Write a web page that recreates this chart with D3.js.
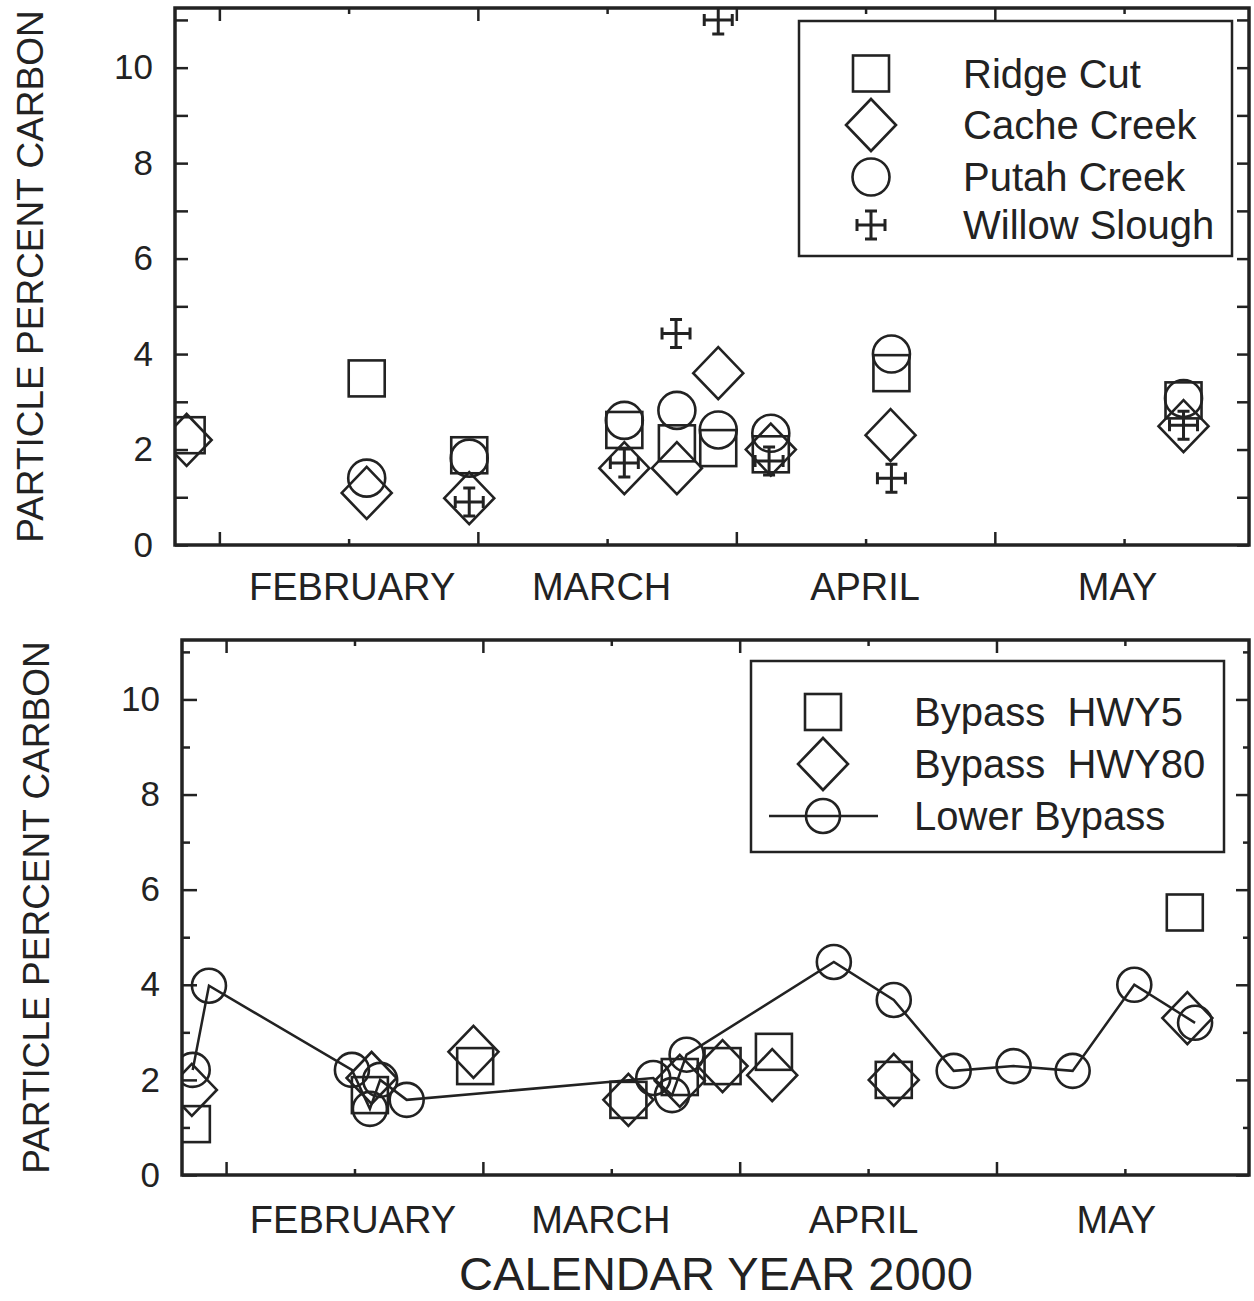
<!DOCTYPE html>
<html><head><meta charset="utf-8">
<script src="https://cdn.jsdelivr.net/npm/d3@7"></script>
<style>
html,body{margin:0;padding:0;background:#fff;}
text{font-family:"Liberation Sans",Arial,Helvetica,sans-serif;fill:#222;}
</style>
</head><body>
<svg id="chart" width="1254" height="1301" xmlns="http://www.w3.org/2000/svg"></svg>
<script>
// ---------- data (day of year 2000, particle percent carbon) ----------
const dayTicks = [30, 45, 60, 75, 90, 105, 120, 135];
const monthTickDays = [45, 75, 105, 135];
const monthLabels = ["FEBRUARY", "MARCH", "APRIL", "MAY"];
const yTicks = [0, 1, 2, 3, 4, 5, 6, 7, 8, 9, 10, 11];
const yLabelTicks = [0, 2, 4, 6, 8, 10];
const xDomain = [24.85, 149.5];
const yDomain = [0, 11.25];

const topNames = ["Ridge Cut", "Cache Creek", "Putah Creek", "Willow Slough"];
const ridgeCutDay = [26.2, 47.1, 59.0, 77.0, 83.1, 87.9, 94.0, 108.0, 141.9];
const ridgeCutPct = [2.3, 3.49, 1.88, 2.41, 2.13, 2.03, 1.9, 3.6, 3.03];
const cacheCreekDay = [26.2, 47.1, 59.0, 77.0, 83.1, 87.9, 94.0, 107.9, 141.9];
const cacheCreekPct = [2.2, 1.09, 0.98, 1.61, 1.61, 3.6, 2.0, 2.3, 2.49];
const putahCreekDay = [47.1, 59.0, 77.0, 83.1, 87.9, 94.0, 108.0, 141.9];
const putahCreekPct = [1.4, 1.82, 2.61, 2.82, 2.41, 2.34, 4.0, 3.07];
const willowSloughDay = [59.0, 77.0, 83.0, 87.9, 93.8, 108.0, 141.9];
const willowSloughPct = [0.9, 1.72, 4.43, 11.0, 1.76, 1.4, 2.51];

const bottomNames = ["Bypass  HWY5", "Bypass  HWY80", "Lower Bypass"];
const hwy5Day = [26.0, 46.8, 59.1, 77.0, 83.0, 88.0, 94.0, 108.0, 142.0];
const hwy5Pct = [1.07, 1.68, 2.29, 1.58, 2.06, 2.29, 2.59, 2.0, 5.52];
const hwy80Day = [26.0, 47.0, 58.9, 77.0, 83.0, 88.0, 93.8, 108.0, 142.3];
const hwy80Pct = [1.79, 2.04, 2.59, 1.58, 1.98, 2.29, 2.1, 2.0, 3.3];
const lowerDay = [26.1, 28.0, 44.7, 46.8, 48.0, 51.1, 79.9, 82.1, 83.8, 101.0, 108.0, 115.0, 122.0, 128.9, 136.1, 143.2];
const lowerPct = [2.21, 3.98, 2.21, 1.39, 2.0, 1.58, 2.04, 1.68, 2.53, 4.48, 3.68, 2.19, 2.29, 2.19, 4.0, 3.2];

// ---------- drawing ----------
const INK = "#222";
const FONT = '"Liberation Sans", Arial, Helvetica, sans-serif';
const svg = d3.select("#chart");
svg.append("rect").attr("width", 1254).attr("height", 1301).attr("fill", "#fff");

function zip(days, vals) { return days.map((d, i) => ({ d: d, v: vals[i] })); }

function symbol(g, type, cx, cy, r) {
  const sw = 2.6;
  if (type === "square") {
    g.append("rect").attr("x", cx - 18).attr("y", cy - 18).attr("width", 36).attr("height", 36)
      .attr("fill", "none").attr("stroke", INK).attr("stroke-width", sw);
  } else if (type === "diamond") {
    g.append("path").attr("d", `M${cx},${cy - 26}L${cx + 25},${cy}L${cx},${cy + 26}L${cx - 25},${cy}Z`)
      .attr("fill", "none").attr("stroke", INK).attr("stroke-width", sw).attr("stroke-linejoin", "miter");
  } else if (type === "circle") {
    g.append("circle").attr("cx", cx).attr("cy", cy).attr("r", r)
      .attr("fill", "none").attr("stroke", INK).attr("stroke-width", sw);
  } else if (type === "cross") {
    const h = 14, c = 6;
    g.append("path").attr("d",
      `M${cx - h},${cy}H${cx + h}M${cx},${cy - h}V${cy + h}` +
      `M${cx - h},${cy - c}V${cy + c}M${cx + h},${cy - c}V${cy + c}` +
      `M${cx - c},${cy - h}H${cx + c}M${cx - c},${cy + h}H${cx + c}`)
      .attr("fill", "none").attr("stroke", INK).attr("stroke-width", 3);
  }
}

function panel(o) {
  const x = d3.scaleLinear().domain(xDomain).range([o.left, o.right]);
  const y = d3.scaleLinear().domain(yDomain).range([o.bottom, o.top]);
  const g = svg.append("g");
  const clipId = "clip" + o.id;
  svg.append("clipPath").attr("id", clipId).append("rect")
    .attr("x", o.left).attr("y", o.top).attr("width", o.right - o.left).attr("height", o.bottom - o.top);

  const styleAxis = (ax) => {
    ax.select(".domain").remove();
    ax.attr("font-family", FONT).attr("color", INK);
    ax.selectAll(".tick line").attr("stroke-width", 2.5);
  };

  // bottom axis with month labels
  const axB = g.append("g").attr("transform", `translate(0,${o.bottom})`)
    .call(d3.axisBottom(x).tickValues(dayTicks).tickSizeInner(-13).tickSizeOuter(0).tickPadding(o.xPad)
      .tickFormat(d => { const i = monthTickDays.indexOf(d); return i >= 0 ? monthLabels[i] : ""; }));
  styleAxis(axB);
  axB.attr("font-size", 38);
  axB.selectAll(".tick line").attr("y2", d => monthTickDays.includes(d) ? -6 : -13);
  axB.selectAll(".tick text").attr("dx", d => {
    const i = monthTickDays.indexOf(d); return i >= 0 ? o.labelShift[i] : 0;
  });

  const axT = g.append("g").attr("transform", `translate(0,${o.top})`)
    .call(d3.axisTop(x).tickValues(dayTicks).tickSizeInner(-13).tickSizeOuter(0).tickFormat(""));
  styleAxis(axT);
  axT.selectAll(".tick line").attr("y2", d => monthTickDays.includes(d) ? 6 : 13);

  const axL = g.append("g").attr("transform", `translate(${o.left},0)`)
    .call(d3.axisLeft(y).tickValues(yTicks).tickSizeInner(-13).tickSizeOuter(0).tickPadding(22)
      .tickFormat(d => yLabelTicks.includes(d) ? String(d) : ""));
  styleAxis(axL);
  axL.attr("font-size", 35);
  axL.selectAll(".tick line").attr("x2", d => yLabelTicks.includes(d) ? o.yMajor : o.yMinor);

  const axR = g.append("g").attr("transform", `translate(${o.right},0)`)
    .call(d3.axisRight(y).tickValues(yTicks).tickSizeInner(-12).tickSizeOuter(0).tickFormat(""));
  styleAxis(axR);
  axR.selectAll(".tick line").attr("x2", d => yLabelTicks.includes(d) ? -o.yMajorR : -o.yMinorR);

  // y title
  g.append("text").attr("transform", `translate(${o.titleX},${(o.top + o.bottom) / 2}) rotate(-90)`)
    .attr("text-anchor", "middle").attr("font-size", 37).text("PARTICLE PERCENT CARBON");

  // data
  const plot = g.append("g").attr("clip-path", `url(#${clipId})`);
  o.series.forEach(s => {
    const pts = zip(s.days, s.vals);
    if (s.line) {
      plot.append("path").datum(pts)
        .attr("d", d3.line().x(p => x(p.d)).y(p => y(p.v)))
        .attr("fill", "none").attr("stroke", INK).attr("stroke-width", 2.5);
    }
    pts.forEach(p => symbol(plot, s.type, x(p.d), y(p.v), o.r));
  });

  // frame
  g.append("rect").attr("x", o.left).attr("y", o.top)
    .attr("width", o.right - o.left).attr("height", o.bottom - o.top)
    .attr("fill", "none").attr("stroke", INK).attr("stroke-width", 3.5);

  // legend
  const L = o.legend;
  const lg = g.append("g");
  lg.append("rect").attr("x", L.x0).attr("y", L.y0).attr("width", L.x1 - L.x0).attr("height", L.y1 - L.y0)
    .attr("fill", "#fff").attr("stroke", INK).attr("stroke-width", 2.5);
  o.series.forEach((s, i) => {
    const cy = L.rows[i];
    if (s.line) {
      lg.append("line").attr("x1", L.lineX0).attr("x2", L.lineX1).attr("y1", cy).attr("y2", cy)
        .attr("stroke", INK).attr("stroke-width", 2.5);
    }
    symbol(lg, s.type, L.symX, cy, o.r);
    lg.append("text").attr("x", L.textX).attr("y", cy + 14).attr("font-size", 40)
      .style("white-space", "pre").attr("xml:space", "preserve").text(s.name);
  });
}

panel({
  id: "top", left: 175, right: 1249, top: 8, bottom: 545, xPad: 28, titleX: 43, r: 18.5,
  yMajor: 13, yMinor: 13, yMajorR: 12, yMinorR: 12, labelShift: [3, -6, -1, -7],
  series: [
    { name: topNames[0], type: "square", days: ridgeCutDay, vals: ridgeCutPct },
    { name: topNames[1], type: "diamond", days: cacheCreekDay, vals: cacheCreekPct },
    { name: topNames[2], type: "circle", days: putahCreekDay, vals: putahCreekPct },
    { name: topNames[3], type: "cross", days: willowSloughDay, vals: willowSloughPct }
  ],
  legend: { x0: 799, y0: 21, x1: 1232, y1: 256, symX: 871, textX: 963, rows: [73.5, 125, 177, 225] }
});

panel({
  id: "bottom", left: 182, right: 1249, top: 640, bottom: 1175, xPad: 31, titleX: 49, r: 17,
  yMajor: 15, yMinor: 8, yMajorR: 13, yMinorR: 6, labelShift: [-2, -11, -5, -9],
  series: [
    { name: bottomNames[0], type: "square", days: hwy5Day, vals: hwy5Pct },
    { name: bottomNames[1], type: "diamond", days: hwy80Day, vals: hwy80Pct },
    { name: bottomNames[2], type: "circle", days: lowerDay, vals: lowerPct, line: true }
  ],
  legend: { x0: 751, y0: 661, x1: 1224, y1: 852, symX: 823, textX: 914, rows: [712, 764, 816], lineX0: 769, lineX1: 878 }
});

svg.append("text").attr("x", 716).attr("y", 1290).attr("text-anchor", "middle")
  .attr("font-size", 47).attr("font-family", FONT).attr("fill", INK).text("CALENDAR YEAR 2000");
</script>
</body></html>
